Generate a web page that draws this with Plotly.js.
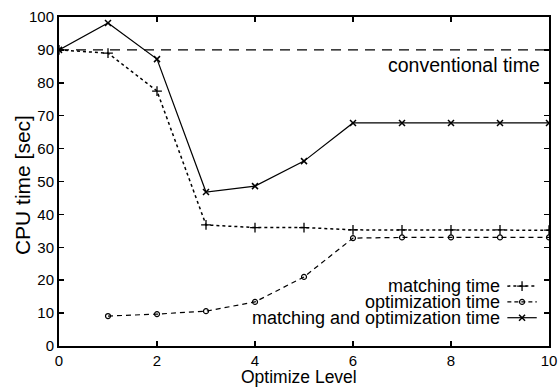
<!DOCTYPE html>
<html><head><meta charset="utf-8">
<script src="https://cdn.plot.ly/plotly-3.0.1.min.js"></script>
<style>html,body{margin:0;padding:0;background:#fff}#c{width:558px;height:387px}</style>
</head><body><div id="c"></div>
<script>
const levels = [0,1,2,3,4,5,6,7,8,9,10];
const matchingTime = [90,89,77.5,36.8,36,36,35.3,35.3,35.3,35.3,35.2];
const optLevels = [1,2,3,4,5,6,7,8,9,10];
const optimizationTime = [9.1,9.7,10.6,13.4,21,32.8,33,33,33,33];
const combinedTime = [90,98.2,87.2,46.8,48.6,56.2,67.8,67.8,67.8,67.8,67.8];
const conventionalX = [0,10];
const conventionalTime = [90,90];
const seriesNames = ["matching time","optimization time","matching and optimization time"];
const conventionalName = "conventional time";
const xTitle = "Optimize Level";
const yTitle = "CPU time [sec]";
const xTicks = [0,2,4,6,8,10];
const yTicks = [0,10,20,30,40,50,60,70,80,90,100];

const F = "Liberation Sans, Arial, sans-serif";
const rows=[0.182,0.134,0.086];
const traces = [
 {x:conventionalX,y:conventionalTime,mode:'lines',line:{color:'#000',width:1.3,dash:'10px,7px'},showlegend:false},
 {x:levels,y:matchingTime,mode:'lines+markers',line:{color:'#000',width:1.5,dash:'dot'},marker:{symbol:'cross-thin',size:7,line:{width:1.3,color:'#000'}},showlegend:false},
 {x:optLevels,y:optimizationTime,mode:'lines+markers',line:{color:'#000',width:1.2,dash:'5px,4px'},marker:{symbol:'circle-open',size:5,color:'#000',line:{width:1.2}},showlegend:false},
 {x:levels,y:combinedTime,mode:'lines+markers',line:{color:'#000',width:1.2},marker:{symbol:'x-thin',size:6,line:{width:1.5,color:'#000'}},showlegend:false},
 // legend samples
 {x:[0.915,0.975],y:[rows[0],rows[0]],xaxis:'x2',yaxis:'y2',mode:'lines',line:{color:'#000',width:1.5,dash:'dot'},showlegend:false},
 {x:[0.945],y:[rows[0]],xaxis:'x2',yaxis:'y2',mode:'markers',marker:{symbol:'cross-thin',size:7,line:{width:1.3,color:'#000'}},showlegend:false},
 {x:[0.915,0.975],y:[rows[1],rows[1]],xaxis:'x2',yaxis:'y2',mode:'lines',line:{color:'#000',width:1.2,dash:'4px,3px'},showlegend:false},
 {x:[0.945],y:[rows[1]],xaxis:'x2',yaxis:'y2',mode:'markers',marker:{symbol:'circle-open',size:5,color:'#000',line:{width:1.2}},showlegend:false},
 {x:[0.915,0.975],y:[rows[2],rows[2]],xaxis:'x2',yaxis:'y2',mode:'lines',line:{color:'#000',width:1.2},showlegend:false},
 {x:[0.945],y:[rows[2]],xaxis:'x2',yaxis:'y2',mode:'markers',marker:{symbol:'x-thin',size:6,line:{width:1.5,color:'#000'}},showlegend:false}
];
const annotations = seriesNames.map((t,i)=>({text:t,x:0.905,y:rows[i],xref:'paper',yref:'paper',xanchor:'right',yanchor:'middle',showarrow:false,font:{family:F,size:18,color:'#000'}}));
annotations.push({text:conventionalName,x:0.986,y:0.854,xref:'paper',yref:'paper',xanchor:'right',yanchor:'middle',showarrow:false,font:{family:F,size:19.5,color:'#000'}});
annotations.push({text:xTitle,x:0.49,y:-0.095,xref:'paper',yref:'paper',xanchor:'center',yanchor:'middle',showarrow:false,font:{family:F,size:17.5,color:'#000'}});
annotations.push({text:yTitle,x:-0.0755,y:0.489,xref:'paper',yref:'paper',xanchor:'center',yanchor:'middle',textangle:-90,showarrow:false,font:{family:F,size:21,color:'#000'}});
const layout = {
 width:558,height:387,margin:{l:59,r:9,t:17,b:41},
 paper_bgcolor:'#fff',plot_bgcolor:'#fff',
 xaxis:{range:[0,10],tickvals:xTicks,ticktext:xTicks.map(String),ticks:'inside',ticklen:5,tickwidth:1.5,tickcolor:'#000',showgrid:false,zeroline:false,showline:true,linecolor:'#000',linewidth:2,mirror:'ticks',
   tickfont:{family:F,size:15,color:'#000'}},
 yaxis:{range:[0,100],tickvals:yTicks,ticks:'inside',ticklen:5,tickwidth:1.5,tickcolor:'#000',showgrid:false,zeroline:false,showline:true,linecolor:'#000',linewidth:2,mirror:'ticks',
   tickfont:{family:F,size:15,color:'#000'}},
 xaxis2:{range:[0,1],overlaying:'x',visible:false,fixedrange:true},
 yaxis2:{range:[0,1],overlaying:'y',visible:false,fixedrange:true},
 annotations:annotations,
 showlegend:false
};
Plotly.newPlot('c',traces,layout,{displayModeBar:false,staticPlot:true});
</script></body></html>
